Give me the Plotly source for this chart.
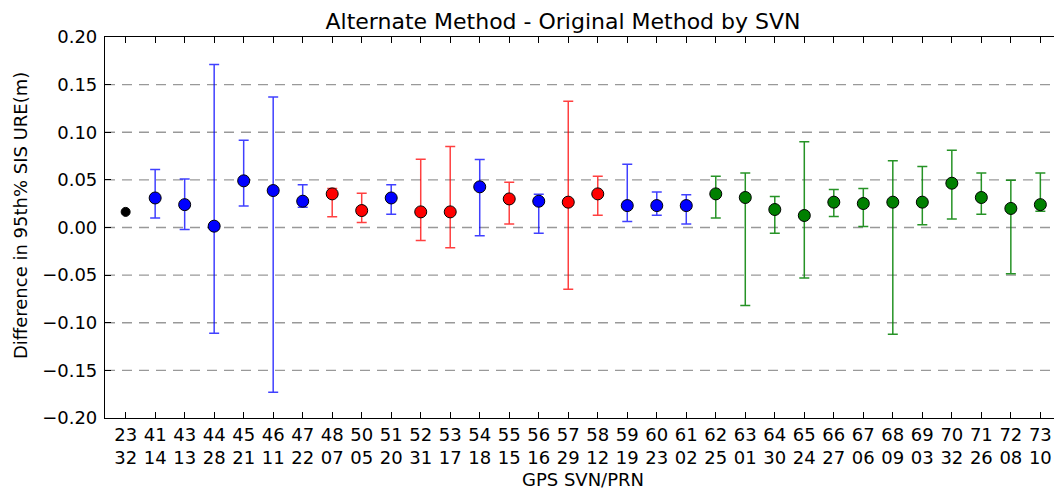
import plotly.graph_objects as go

svn = ["23", "41", "43", "44", "45", "46", "47", "48", "50", "51", "52", "53", "54", "55", "56", "57",
       "58", "59", "60", "61", "62", "63", "64", "65", "66", "67", "68", "69", "70", "71", "72", "73"]
prn = ["32", "14", "13", "28", "21", "11", "22", "07", "05", "20", "31", "17", "18", "15", "16", "29",
       "12", "19", "23", "02", "25", "01", "30", "24", "27", "06", "09", "03", "32", "26", "08", "10"]
group = ["k", "b", "b", "b", "b", "b", "b", "r", "r", "b", "r", "r", "b", "r", "b", "r",
         "r", "b", "b", "b", "g", "g", "g", "g", "g", "g", "g", "g", "g", "g", "g", "g"]
mean = [0.0164, 0.031, 0.024, 0.0014, 0.049, 0.0388, 0.0276, 0.0353, 0.0178, 0.031, 0.0164, 0.0164,
        0.0427, 0.030, 0.0276, 0.0266, 0.0353, 0.023, 0.023, 0.023, 0.0353, 0.0315, 0.0189, 0.0126,
        0.0266, 0.0252, 0.0266, 0.0266, 0.0465, 0.0315, 0.020, 0.024]
upper = [0.0164, 0.061, 0.051, 0.171, 0.0916, 0.137, 0.045, 0.041, 0.036, 0.045, 0.0717, 0.085,
         0.0713, 0.0476, 0.035, 0.1325, 0.0538, 0.0664, 0.0374, 0.0343, 0.0538, 0.0573, 0.0325, 0.0899,
         0.0399, 0.041, 0.070, 0.064, 0.081, 0.0573, 0.0497, 0.0573]
lower = [0.0164, 0.010, -0.002, -0.111, 0.0227, -0.173, 0.0213, 0.0112, 0.0052, 0.014, -0.0136, -0.0213,
         -0.0087, 0.0038, -0.006, -0.0647, 0.0129, 0.0063, 0.0129, 0.0038, 0.010, -0.082, -0.006, -0.053,
         0.0115, 0.001, -0.112, 0.0028, 0.009, 0.014, -0.0486, 0.0171]
yticks = [-0.2, -0.15, -0.1, -0.05, 0.0, 0.05, 0.1, 0.15, 0.2]

colors = {"k": "#000000", "b": "#0000ff", "r": "#ff0000", "g": "#008000"}
bar_colors = {"b": "rgba(0,0,255,0.75)", "r": "rgba(255,0,0,0.75)", "g": "rgba(0,128,0,0.85)"}

FONT = "DejaVu Sans"
fig = go.Figure()

for g in ["k", "b", "r", "g"]:
    idx = [i for i, v in enumerate(group) if v == g]
    ys = [mean[i] for i in idx]
    if g == "k":
        fig.add_trace(go.Scatter(
            x=idx, y=ys, mode="markers",
            marker=dict(color=colors[g], size=9, line=dict(color="black", width=1)),
            showlegend=False))
    else:
        fig.add_trace(go.Scatter(
            x=idx, y=ys, mode="markers",
            marker=dict(color=colors[g], size=12, line=dict(color="black", width=1)),
            error_y=dict(type="data", symmetric=False,
                         array=[upper[i] - mean[i] for i in idx],
                         arrayminus=[mean[i] - lower[i] for i in idx],
                         color=bar_colors[g], thickness=1.5, width=5),
            showlegend=False))

ticktext = [f"{s}<br>{p}" for s, p in zip(svn, prn)]

# dashed horizontal grid lines (inner ticks only)
for yv in yticks[1:-1]:
    fig.add_shape(type="line", xref="paper", yref="y", x0=0, x1=1, y0=yv, y1=yv,
                  line=dict(color="rgba(128,128,128,0.8)", width=1.3, dash="10px,7px"),
                  layer="below")

# y-axis title placed as annotation to match the reference position
fig.add_annotation(text="Difference in 95th% SIS URE(m)", xref="paper", yref="paper",
                   x=-0.0, y=0.53, xshift=-85, textangle=-90, showarrow=False,
                   xanchor="center", yanchor="middle", font=dict(family=FONT, size=18))

# page body has an 8px default margin, so size the figure to fit the window
fig.update_layout(
    width=1054, height=487,
    margin=dict(l=97, r=1, t=29, b=77),
    paper_bgcolor="white", plot_bgcolor="white",
    font=dict(family=FONT, size=18, color="black"),
    title=dict(text="Alternate Method - Original Method by SVN", x=555 / 1054, xanchor="center",
               y=1 - 13 / 487, yanchor="middle", font=dict(family=FONT, size=22)),
)
fig.update_xaxes(
    range=[-0.7, len(svn) - 1 + 0.7],
    tickmode="array", tickvals=list(range(len(svn))), ticktext=ticktext,
    ticks="inside", ticklen=6, tickcolor="black", mirror="allticks",
    showline=True, linecolor="black", linewidth=1.2, showgrid=False, zeroline=False,
    tickfont=dict(family=FONT, size=18), ticklabelstandoff=0,
    title=dict(text="GPS SVN/PRN", font=dict(family=FONT, size=18), standoff=6),
)
fig.update_yaxes(
    range=[-0.2, 0.2], tickmode="array", tickvals=yticks,
    tickformat=".2f",
    ticks="inside", ticklen=6, tickcolor="black", mirror="allticks",
    showline=True, linecolor="black", linewidth=1.2, showgrid=False, zeroline=False,
    tickfont=dict(family=FONT, size=18), ticklabelstandoff=3,
)

fig.write_html("out.html")
